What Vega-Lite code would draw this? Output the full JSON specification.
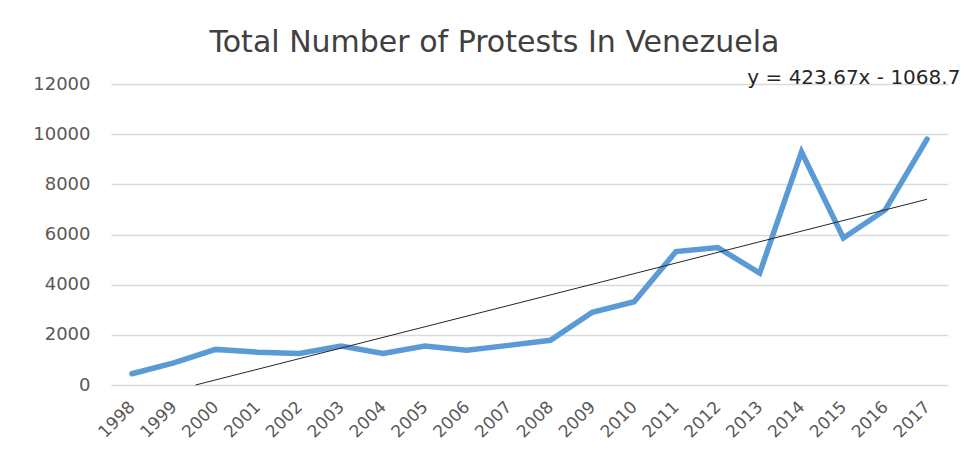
{
  "$schema": "https://vega.github.io/schema/vega-lite/v6.json",
  "autosize": "none",
  "width": 837,
  "height": 301,
  "padding": {"left": 111, "top": 84, "right": 21, "bottom": 66},
  "background": "white",
  "config": {"view": {"stroke": null}, "font": "DejaVu Sans"},
  "title": {
    "text": "Total Number of Protests In Venezuela",
    "fontSize": 30,
    "fontWeight": "normal",
    "color": "#404040",
    "font": "DejaVu Sans",
    "anchor": "middle",
    "dx": -35,
    "offset": 10
  },
  "datasets": {
    "protests": [
      {"year": 1998, "protests": 450},
      {"year": 1999, "protests": 880},
      {"year": 2000, "protests": 1420},
      {"year": 2001, "protests": 1310},
      {"year": 2002, "protests": 1260},
      {"year": 2003, "protests": 1550},
      {"year": 2004, "protests": 1260},
      {"year": 2005, "protests": 1550},
      {"year": 2006, "protests": 1390},
      {"year": 2007, "protests": 1580},
      {"year": 2008, "protests": 1780},
      {"year": 2009, "protests": 2900},
      {"year": 2010, "protests": 3320},
      {"year": 2011, "protests": 5320},
      {"year": 2012, "protests": 5480},
      {"year": 2013, "protests": 4460},
      {"year": 2014, "protests": 9290},
      {"year": 2015, "protests": 5860},
      {"year": 2016, "protests": 6980},
      {"year": 2017, "protests": 9800}
    ],
    "trend": [
      {"year": 1999.52, "value": 0},
      {"year": 2017, "value": 7405}
    ],
    "label": [
      {"year": 2015.25, "value": 12240, "text": "y = 423.67x - 1068.7"}
    ]
  },
  "layer": [
    {
      "data": {"name": "protests"},
      "mark": {"type": "line", "color": "#5b9bd5", "strokeWidth": 5.5, "strokeJoin": "miter", "strokeCap": "round"},
      "encoding": {
        "x": {
          "field": "year",
          "type": "quantitative",
          "scale": {"domain": [1997.5, 2017.5], "nice": false, "zero": false},
          "axis": {
            "values": [1998,1999,2000,2001,2002,2003,2004,2005,2006,2007,2008,2009,2010,2011,2012,2013,2014,2015,2016,2017],
            "format": "d",
            "title": null,
            "grid": false,
            "ticks": false,
            "domain": false,
            "labelAngle": -45,
            "labelAlign": "right",
            "labelBaseline": "middle",
            "labelFontSize": 17,
            "labelColor": "#595959",
            "labelPadding": 19,
            "labelFlush": false,
            "labelOverlap": false
          }
        },
        "y": {
          "field": "protests",
          "type": "quantitative",
          "scale": {"domain": [0, 12000], "nice": false},
          "axis": {
            "values": [0, 2000, 4000, 6000, 8000, 10000, 12000],
            "format": "d",
            "title": null,
            "ticks": false,
            "domain": false,
            "gridColor": "#d9d9d9",
            "gridWidth": 1.5,
            "labelFontSize": 18,
            "labelColor": "#595959",
            "labelPadding": 21
          }
        }
      }
    },
    {
      "data": {"name": "trend"},
      "mark": {"type": "line", "color": "#262626", "strokeWidth": 1},
      "encoding": {
        "x": {"field": "year", "type": "quantitative"},
        "y": {"field": "value", "type": "quantitative"}
      }
    },
    {
      "data": {"name": "label"},
      "mark": {"type": "text", "fontSize": 20, "color": "#262626", "clip": false, "align": "center", "baseline": "middle"},
      "encoding": {
        "x": {"field": "year", "type": "quantitative"},
        "y": {"field": "value", "type": "quantitative"},
        "text": {"field": "text"}
      }
    }
  ]
}
